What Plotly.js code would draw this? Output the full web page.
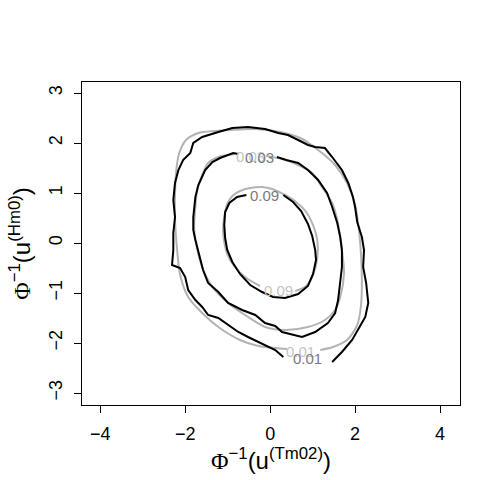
<!DOCTYPE html>
<html>
<head>
<meta charset="utf-8">
<script src="https://cdn.plot.ly/plotly-3.0.1.min.js"></script>
<style>
  html, body { margin: 0; padding: 0; background: #fff; }
  #plot { width: 480px; height: 480px; }
</style>
</head>
<body>
<div id="plot"></div>
<script>
// contour paths (data units), split at the label gaps
const grayOuterX = [1.18, 1.48, 1.81, 2.05, 2.14, 2.16, 2.14, 2.09, 2.00, 1.81, 1.53, 1.13, 0.71, 0.24, -0.35, -0.94, -1.29, -1.69, -1.98, -2.14, -2.21, -2.24, -2.24, -2.19, -2.12, -1.93, -1.60, -1.22, -0.71, -0.28, 0.12, 0.40];
const grayOuterY = [-2.14, -2.08, -1.94, -1.64, -1.24, -0.74, -0.24, 0.26, 0.76, 1.20, 1.56, 1.86, 2.10, 2.22, 2.28, 2.26, 2.24, 2.20, 2.06, 1.80, 1.46, 0.96, 0.46, -0.14, -0.64, -1.08, -1.40, -1.68, -1.94, -2.06, -2.10, -2.12];

const grayMidX = [-0.09, 0.28, 0.66, 0.99, 1.22, 1.46, 1.58, 1.69, 1.74, 1.65, 1.53, 1.29, 0.89, 0.35, -0.12, -0.52, -0.99, -1.36, -1.60, -1.76, -1.79, -1.76, -1.72, -1.60, -1.46, -1.22, -0.82];
const grayMidY = [1.74, 1.68, 1.56, 1.40, 1.12, 0.80, 0.46, -0.14, -0.60, -1.08, -1.34, -1.54, -1.68, -1.74, -1.68, -1.48, -1.20, -0.88, -0.48, 0.06, 0.32, 0.72, 1.06, 1.36, 1.60, 1.72, 1.78];

const grayInnerX = [0.59, 0.85, 1.01, 1.11, 1.11, 1.01, 0.85, 0.61, 0.35, 0.05, -0.19, -0.47, -0.71, -0.89, -1.01, -1.08, -1.11, -1.08, -1.01, -0.85, -0.56, -0.24];
const grayInnerY = [-0.96, -0.86, -0.64, -0.30, 0.06, 0.36, 0.62, 0.82, 0.96, 1.08, 1.12, 1.10, 1.04, 0.94, 0.78, 0.52, 0.26, 0.02, -0.22, -0.46, -0.70, -0.86];

const blackOuterX = [1.46, 1.69, 1.93, 2.07, 2.24, 2.31, 2.26, 2.19, 2.21, 2.16, 2.05, 2.00, 1.95, 1.84, 1.69, 1.46, 1.29, 1.06, 0.89, 0.66, 0.42, 0.19, -0.12, -0.52, -0.89, -1.22, -1.60, -1.81, -1.88, -2.05, -2.16, -2.24, -2.28, -2.24, -2.28, -2.28, -2.31, -2.12, -2.00, -1.93, -1.76, -1.60, -1.46, -1.22, -0.99, -0.75, -0.52, -0.28, -0.05, 0.12, 0.31];
const blackOuterY = [-2.38, -2.18, -1.94, -1.74, -1.48, -1.20, -0.80, -0.48, -0.14, 0.12, 0.42, 0.72, 0.92, 1.20, 1.46, 1.72, 1.90, 1.92, 1.96, 2.06, 2.16, 2.20, 2.28, 2.32, 2.30, 2.22, 2.12, 2.00, 1.80, 1.66, 1.46, 1.20, 0.86, 0.52, 0.20, -0.14, -0.44, -0.50, -0.68, -0.94, -1.14, -1.28, -1.44, -1.50, -1.64, -1.78, -1.88, -1.98, -2.08, -2.14, -2.28];

const blackMidX = [0.16, 0.38, 0.66, 0.89, 1.13, 1.34, 1.46, 1.58, 1.65, 1.69, 1.69, 1.65, 1.60, 1.53, 1.36, 1.06, 0.75, 0.28, 0.12, -0.12, -0.35, -0.66, -0.99, -1.22, -1.46, -1.58, -1.69, -1.76, -1.81, -1.81, -1.76, -1.69, -1.53, -1.36, -1.18, -0.87, -0.75];
const blackMidY = [1.72, 1.66, 1.60, 1.46, 1.26, 1.00, 0.72, 0.40, 0.12, -0.14, -0.48, -0.80, -1.14, -1.40, -1.60, -1.78, -1.88, -1.78, -1.66, -1.60, -1.44, -1.34, -1.20, -0.98, -0.80, -0.54, -0.20, 0.06, 0.26, 0.52, 0.92, 1.16, 1.46, 1.62, 1.70, 1.80, 1.78];

const blackInnerX = [0.31, 0.54, 0.73, 0.89, 0.99, 1.06, 1.08, 1.01, 0.89, 0.66, 0.35, 0.07, -0.19, -0.47, -0.71, -0.89, -1.01, -1.06, -1.08, -1.06, -0.96, -0.78, -0.56];
const blackInnerY = [0.96, 0.82, 0.64, 0.38, 0.14, -0.14, -0.34, -0.62, -0.86, -1.02, -1.10, -1.08, -0.98, -0.84, -0.62, -0.38, -0.14, 0.10, 0.36, 0.62, 0.80, 0.92, 0.96];

// contour labels
const labelText = ['0.03', '0.03', '0.09', '0.09', '0.01', '0.01'];
const labelX = [-0.47, -0.26, -0.14, 0.19, 0.71, 0.89];
const labelY = [1.74, 1.72, 0.96, -0.94, -2.16, -2.30];
const labelModel = [true, false, false, true, true, false];

const xTicks = [-4, -2, 0, 2, 4];
const yTicks = [-3, -2, -1, 0, 1, 2, 3];

const FONT = 'Liberation Sans, Arial, sans-serif';
const GRAY = '#b3b3b3';
const LABEL_LIGHT = '#c4c4c4';
const LABEL_DARK = '#7a7a7a';
const PHI = '<span style="font-family:Liberation Serif, serif">Φ</span>';

function path(x, y, color, smooth) {
  return { x, y, type: 'scatter', mode: 'lines', hoverinfo: 'skip', showlegend: false,
    line: { color, width: 2, shape: smooth ? 'spline' : 'linear', smoothing: 0.8 } };
}

const traces = [
  path(grayOuterX, grayOuterY, GRAY, true),
  path(grayMidX, grayMidY, GRAY, true),
  path(grayInnerX, grayInnerY, GRAY, true),
  path(blackOuterX, blackOuterY, '#000', false),
  path(blackMidX, blackMidY, '#000', false),
  path(blackInnerX, blackInnerY, '#000', false),
];

const annotations = labelText.map((t, i) => ({
  x: labelX[i], y: labelY[i], xref: 'x', yref: 'y', text: t, showarrow: false,
  font: { family: FONT, size: 15, color: labelModel[i] ? LABEL_LIGHT : LABEL_DARK }
}));

const axisCommon = {
  showgrid: false, zeroline: false, showline: true, mirror: true,
  linecolor: '#000', linewidth: 1, ticks: 'outside', ticklen: 7, tickwidth: 1, tickcolor: '#000',
  tickfont: { family: FONT, size: 18, color: '#000' },
};

Plotly.newPlot('plot', traces, {
  width: 480, height: 480,
  paper_bgcolor: '#fff', plot_bgcolor: '#fff',
  margin: { l: 82, r: 20, t: 82, b: 75 },
  showlegend: false,
  xaxis: { ...axisCommon, range: [-4.43, 4.47], tickvals: xTicks, ticklabelstandoff: 5,
    title: { text: PHI + '<sup>−1</sup>(u<sup>(Tm02)</sup>)', standoff: 6,
      font: { family: FONT, size: 24, color: '#000' } } },
  yaxis: { ...axisCommon, range: [-3.24, 3.22], tickvals: yTicks, tickangle: -90, ticklabelstandoff: 5,
    title: { text: PHI + '<sup>−1</sup>(u<sup>(Hm0)</sup>)', standoff: 8,
      font: { family: FONT, size: 24, color: '#000' } } },
  annotations,
}, { displayModeBar: false, staticPlot: true });
</script>
</body>
</html>
